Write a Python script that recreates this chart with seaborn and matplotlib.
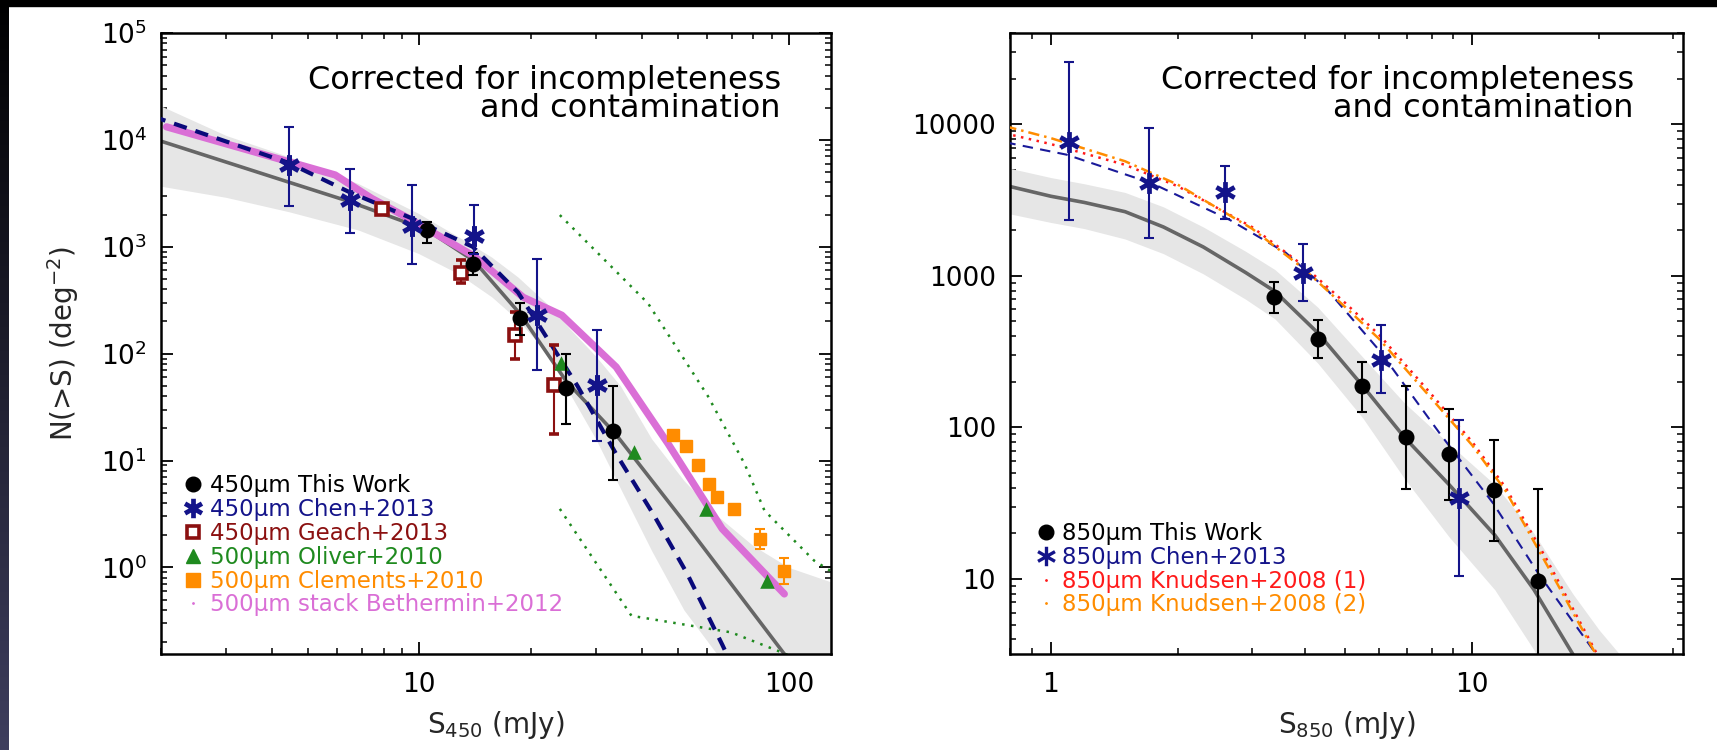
import numpy as np
import matplotlib
matplotlib.use("Agg")
import matplotlib.pyplot as plt
import seaborn as sns
from matplotlib.lines import Line2D
from matplotlib.path import Path
from matplotlib.patches import Rectangle
from matplotlib.ticker import LogLocator, NullFormatter, FuncFormatter, FixedLocator, LogFormatterMathtext

sns.set_theme(style="white")
plt.rcParams["font.family"] = ["DejaVu Sans"]
plt.rcParams["mathtext.fontset"] = "dejavusans"

# ---------------- 450 micron panel data ----------------
this450_x = [10.5, 13.95, 18.75, 25.0, 33.4]
this450_y = [1435, 693, 216, 48, 19]
this450_lo = [1080, 540, 149, 22.1, 6.6]
this450_hi = [1715, 880, 295, 98.6, 49.8]

chen450_x = [4.43, 6.5, 9.57, 14.08, 20.8, 30.3]
chen450_y = [5830, 2740, 1563, 1260, 229, 50.6]
chen450_lo = [2400, 1353, 689, 850, 69.9, 15.4]
chen450_hi = [13330, 5310, 3760, 2460, 762, 166]

geach_x = [7.94, 12.96, 18.2, 23.1]
geach_y = [2240, 570, 149, 50.6]
geach_lo = [2100, 454, 90, 17.8]
geach_hi = [2400, 750, 246, 120]

oliver_x = [24.1, 38.0, 59.8, 87.2]
oliver_y = [82, 12, 3.53, 0.75]

clements_x = [48.6, 52.7, 56.8, 60.8, 64.0, 71.0, 83.6, 97.2]
clements_y = [17.2, 13.8, 9.0, 6.05, 4.6, 3.55, 1.85, 0.93]
clements_lo = [17.2, 13.8, 9.0, 6.05, 4.6, 3.55, 1.5, 0.70]
clements_hi = [17.2, 13.8, 9.0, 6.05, 4.6, 3.55, 2.27, 1.23]

bethermin_x = [2.07, 5.92, 7.43, 9.53, 14.1, 19.1, 24.3, 34.1, 47.1, 66.0, 97.2]
bethermin_y = [13250, 4700, 2840, 1780, 813, 337, 229, 75, 14.4, 2.3, 0.565]

fit450_x = [1.9, 4.42, 6.43, 10.5, 14.05, 18.75, 25.0, 33.8, 51.1, 97.2, 110]
fit450_y = [10300, 4036, 2667, 1435, 740, 235, 55, 18.1, 2.9, 0.155, 0.09]

chenfit450_x = [1.9, 4.42, 6.43, 9.5, 13.95, 18.5, 22.6, 26.8, 34.0, 43.2, 53.0, 66.1, 72]
chenfit450_y = [16600, 6110, 3280, 1858, 1000, 374, 126, 49.8, 11.7, 3.05, 0.88, 0.188, 0.1]

band450_x = [1.9, 3.0, 4.43, 6.84, 9.94, 12.7, 15.7, 18.5, 22.0, 26.0, 30.0, 35.0, 42.5, 52.0, 64.3, 80.0, 100.0, 135.0]
band450_lo = [3800, 2900, 2130, 1435, 867, 564, 340, 206, 105, 38, 16, 5.5, 1.44, 0.4, 0.15, 0.05, 0.02, 0.008]
band450_hi = [22500, 11000, 6970, 3900, 2055, 1250, 800, 520, 300, 160, 95, 50, 16, 6.5, 3.0, 1.6, 1.0, 0.7]

dotup_x = [24.0, 41.6, 60.4, 75.9, 85.9, 117.0, 135.0]
dotup_y = [1980, 295, 40, 9.3, 3.4, 1.16, 0.85]
dotlo_x = [24.0, 37.5, 69.8, 93.3, 100.0]
dotlo_y = [3.53, 0.353, 0.247, 0.166, 0.15]

# ---------------- 850 micron panel data ----------------
this850_x = [3.38, 4.30, 5.47, 6.94, 8.82, 11.27, 14.3]
this850_y = [721, 382, 187, 86, 66.5, 38.5, 9.64]
this850_lo = [570, 286, 126, 39.4, 33, 17.7, 1.0]
this850_hi = [916, 512, 271, 187, 133, 82.8, 39.4]

chen850_x = [1.106, 1.71, 2.59, 3.96, 6.06, 9.3]
chen850_y = [7670, 4070, 3550, 1045, 280, 34]
chen850_lo = [2330, 1766, 2370, 684, 168, 10.4]
chen850_hi = [25800, 9440, 5300, 1620, 473, 112]

fit850_x = [0.78, 1.0, 1.2, 1.5, 1.85, 2.3, 2.9, 3.4, 4.3, 5.5, 6.9, 8.8, 11.3, 14.0, 17.3, 20.0]
fit850_y = [3950, 3350, 3050, 2650, 2100, 1550, 1050, 790, 420, 187, 86, 42, 19.5, 8.5, 3.2, 1.5]
band850_x = [0.78, 1.0, 1.2, 1.5, 1.85, 2.3, 2.9, 3.4, 4.3, 5.5, 6.9, 8.8, 11.3, 14.0, 17.3, 20.0, 23.0, 26.0]
band850_hi = [5200, 4450, 4050, 3550, 2850, 2100, 1450, 1100, 620, 290, 145, 78, 42, 20, 8, 4.6, 2.9, 2.0]
band850_lo = [2600, 2250, 2050, 1750, 1400, 1030, 700, 520, 265, 115, 46, 19, 8.5, 3.4, 1.0, 0.5, 0.3, 0.2]

chenfit850_x = [0.78, 1.09, 1.74, 2.65, 3.61, 4.51, 6.02, 8.4, 11.2, 14.3, 19.5, 21.0]
chenfit850_y = [7600, 6300, 4070, 2350, 1420, 818, 321, 90, 31.6, 11, 3.3, 2.5]

knud1_x = [0.78, 1.0, 1.5, 2.0, 3.0, 4.0, 5.0, 6.0, 8.0, 10.0, 12.0, 15.0, 20.0, 21.0]
knud1_y = [8700, 7400, 5400, 3900, 2100, 1150, 660, 410, 165, 80, 40, 13.5, 3.0, 2.4]
knud2_x = [0.78, 1.0, 1.5, 2.0, 3.0, 4.0, 5.0, 6.0, 8.0, 10.0, 12.0, 15.0, 20.0, 21.0]
knud2_y = [9700, 8100, 5700, 4000, 2050, 1100, 620, 385, 155, 76, 38, 12.5, 2.9, 2.3]

# ---------------- styling ----------------
C_NAVY = "#14148a"
C_DRED = "#8b1010"
C_GREEN = "#1f8a1f"
C_ORANGE = "#ff8c00"
C_ORCHID = "#da6fd6"
C_RED = "#ff1a1a"
C_GRAYL = "#666666"
C_BAND = "#e6e6e6"

ast_path = Path([(0, -1), (0, 1), (-0.87, -0.5), (0.87, 0.5), (-0.87, 0.5), (0.87, -0.5)],
                [Path.MOVETO, Path.LINETO, Path.MOVETO, Path.LINETO, Path.MOVETO, Path.LINETO])

fig = plt.figure(figsize=(17.17, 7.5), dpi=100)
fig.patch.set_facecolor("white")

# dark edges of the original screenshot
t = np.linspace(0, 1, 750)[:, None, None]
c_top = np.array([0.0, 0.0, 0.0])
c_bot = np.array([0x3e, 0x3e, 0x5e]) / 255.0
strip = c_top * (1 - t) + c_bot * t
strip = np.repeat(strip, 9, axis=1)
fig.figimage(strip, xo=0, yo=0, origin="upper", zorder=0)
fig.add_artist(Rectangle((0, 1 - 6 / 750), 1, 6 / 750, transform=fig.transFigure,
                         color="black", zorder=5))

ax1 = fig.add_axes([161 / 1717, 96 / 750, 670 / 1717, 621 / 750])
ax2 = fig.add_axes([1010 / 1717, 96 / 750, 673 / 1717, 621 / 750])

TICK_FS = 19
LAB_FS = 20
ANN_FS = 23
LEG_FS = 16.5


def style_axes(ax):
    ax.set_xscale("log")
    ax.set_yscale("log")
    ax.set_facecolor("white")
    for s in ax.spines.values():
        s.set_visible(True)
        s.set_color("black")
        s.set_linewidth(1.8)
    ax.tick_params(which="both", direction="in", top=True, right=True,
                   bottom=True, left=True, colors="black", labelsize=TICK_FS)
    ax.tick_params(which="major", length=8.6, width=1.3)
    ax.tick_params(which="minor", length=4.2, width=1.1)
    ax.tick_params(axis="x", which="major", pad=13)
    ax.tick_params(axis="y", which="major", pad=10)
    ax.xaxis.set_minor_locator(LogLocator(base=10, subs=np.arange(2, 10), numticks=50))
    ax.yaxis.set_minor_locator(LogLocator(base=10, subs=np.arange(2, 10), numticks=50))
    ax.xaxis.set_minor_formatter(NullFormatter())
    ax.yaxis.set_minor_formatter(NullFormatter())
    ax.grid(False)


def err(y, lo, hi):
    y = np.asarray(y, float)
    return np.vstack([y - np.asarray(lo, float), np.asarray(hi, float) - y])


# ================= Left panel =================
ax = ax1
style_axes(ax)
ax.fill_between(band450_x, band450_lo, band450_hi, color=C_BAND, lw=0, zorder=1)
sns.lineplot(x=fit450_x, y=fit450_y, ax=ax, color=C_GRAYL, lw=2.6, estimator=None, sort=False, zorder=2)
sns.lineplot(x=dotup_x, y=dotup_y, ax=ax, color=C_GREEN, lw=1.8, estimator=None, sort=False,
             zorder=2).lines[-1].set_dashes((1, 2.6))
sns.lineplot(x=dotlo_x, y=dotlo_y, ax=ax, color=C_GREEN, lw=1.8, estimator=None, sort=False,
             zorder=2).lines[-1].set_dashes((1, 2.6))
sns.lineplot(x=bethermin_x, y=bethermin_y, ax=ax, color=C_ORCHID, lw=5.2, estimator=None,
             sort=False, zorder=3)
sns.lineplot(x=chenfit450_x, y=chenfit450_y, ax=ax, color="#0a0a7a", lw=3.0, estimator=None,
             sort=False, zorder=4).lines[-1].set_dashes((3.2, 2.2))

ax.errorbar(geach_x, geach_y, yerr=err(geach_y, geach_lo, geach_hi), fmt="s", ms=8.5,
            mfc="white", mec=C_DRED, mew=2.6, ecolor=C_DRED, elinewidth=1.5, capsize=3.5,
            capthick=1.5, zorder=5)
ax.errorbar(clements_x, clements_y, yerr=err(clements_y, clements_lo, clements_hi), fmt="s",
            ms=9, mfc=C_ORANGE, mec=C_ORANGE, ecolor=C_ORANGE, elinewidth=1.5, capsize=3.5,
            capthick=1.5, zorder=5)
sns.scatterplot(x=oliver_x, y=oliver_y, ax=ax, marker="^", s=110, color=C_GREEN,
                edgecolor=C_GREEN, linewidth=0, zorder=5)
ax.errorbar(this450_x, this450_y, yerr=err(this450_y, this450_lo, this450_hi), fmt="o", ms=10.5,
            mfc="black", mec="black", ecolor="black", elinewidth=1.5, capsize=3.5,
            capthick=1.5, zorder=6)
ax.errorbar(chen450_x, chen450_y, yerr=err(chen450_y, chen450_lo, chen450_hi), fmt="none",
            ecolor=C_NAVY, elinewidth=1.5, capsize=3.5, capthick=1.5, zorder=6)
ax.plot(chen450_x, chen450_y, linestyle="none", marker=ast_path, ms=15, mew=3.6, mec=C_NAVY,
        mfc="none", zorder=7)

ax.set_xlim(2, 130)
ax.set_ylim(0.155, 1e5)
ax.xaxis.set_major_locator(FixedLocator([10, 100]))
ax.xaxis.set_major_formatter(FuncFormatter(lambda v, p: f"{v:g}"))
ax.yaxis.set_major_locator(LogLocator(base=10, numticks=20))
ax.yaxis.set_major_formatter(LogFormatterMathtext())
ax.set_xlabel("S$_{450}$ (mJy)", fontsize=LAB_FS, labelpad=8)
ax.set_ylabel("N(>S) (deg$^{-2}$)", fontsize=LAB_FS, labelpad=14)
ax.text(0.925, 0.948, "Corrected for incompleteness\nand contamination", transform=ax.transAxes,
        ha="right", va="top", fontsize=ANN_FS, linespacing=0.88, color="black")

h1 = [
    Line2D([], [], ls="none", marker="o", ms=10.5, mfc="black", mec="black"),
    Line2D([], [], ls="none", marker=ast_path, ms=14, mew=3.4, mec=C_NAVY, mfc="none"),
    Line2D([], [], ls="none", marker="s", ms=8.5, mfc="white", mec=C_DRED, mew=2.6),
    Line2D([], [], ls="none", marker="^", ms=9.5, mfc=C_GREEN, mec=C_GREEN),
    Line2D([], [], ls="none", marker="s", ms=9.5, mfc=C_ORANGE, mec=C_ORANGE),
    Line2D([], [], ls="none", marker=".", ms=2, mfc=C_ORCHID, mec=C_ORCHID),
]
l1 = ["450μm This Work", "450μm Chen+2013", "450μm Geach+2013", "500μm Oliver+2010",
      "500μm Clements+2010", "500μm stack Bethermin+2012"]
c1 = ["black", C_NAVY, C_DRED, C_GREEN, C_ORANGE, C_ORCHID]
leg = ax.legend(h1, l1, loc="upper left", bbox_to_anchor=(0.032, 0.29), frameon=False,
                fontsize=LEG_FS, handlelength=0.95, handletextpad=0.25, labelspacing=0.04,
                borderpad=0, borderaxespad=0)
for txt, c in zip(leg.get_texts(), c1):
    txt.set_color(c)

# ================= Right panel =================
ax = ax2
style_axes(ax)
ax.fill_between(band850_x, band850_lo, band850_hi, color=C_BAND, lw=0, zorder=1)
sns.lineplot(x=fit850_x, y=fit850_y, ax=ax, color=C_GRAYL, lw=2.6, estimator=None, sort=False, zorder=2)
sns.lineplot(x=chenfit850_x, y=chenfit850_y, ax=ax, color="#1a1a9a", lw=1.5, estimator=None,
             sort=False, zorder=3).lines[-1].set_dashes((5, 3.5))
sns.lineplot(x=knud1_x, y=knud1_y, ax=ax, color=C_RED, lw=1.8, estimator=None, sort=False,
             zorder=3).lines[-1].set_dashes((1, 2.2))
sns.lineplot(x=knud2_x, y=knud2_y, ax=ax, color=C_ORANGE, lw=1.8, estimator=None, sort=False,
             zorder=3).lines[-1].set_dashes((4.5, 2.0, 1, 2.0))

ax.errorbar(this850_x, this850_y, yerr=err(this850_y, this850_lo, this850_hi), fmt="o", ms=10.5,
            mfc="black", mec="black", ecolor="black", elinewidth=1.5, capsize=3.5,
            capthick=1.5, zorder=6)
ax.errorbar(chen850_x, chen850_y, yerr=err(chen850_y, chen850_lo, chen850_hi), fmt="none",
            ecolor=C_NAVY, elinewidth=1.5, capsize=3.5, capthick=1.5, zorder=6)
ax.plot(chen850_x, chen850_y, linestyle="none", marker=ast_path, ms=15, mew=3.4, mec=C_NAVY,
        mfc="none", zorder=7)

ax.set_xlim(0.8, 31.6)
ax.set_ylim(3.2, 4e4)
ax.xaxis.set_major_locator(FixedLocator([1, 10]))
ax.xaxis.set_major_formatter(FuncFormatter(lambda v, p: f"{v:g}"))
ax.yaxis.set_major_locator(FixedLocator([10, 100, 1000, 10000]))
ax.yaxis.set_major_formatter(FuncFormatter(lambda v, p: f"{int(round(v))}"))
ax.set_xlabel("S$_{850}$ (mJy)", fontsize=LAB_FS, labelpad=8)
ax.text(0.927, 0.948, "Corrected for incompleteness\nand contamination", transform=ax.transAxes,
        ha="right", va="top", fontsize=ANN_FS, linespacing=0.88, color="black")

h2 = [
    Line2D([], [], ls="none", marker="o", ms=10.5, mfc="black", mec="black"),
    Line2D([], [], ls="none", marker=ast_path, ms=14, mew=2.4, mec=C_NAVY, mfc="none"),
    Line2D([], [], ls="none", marker=".", ms=2, mfc=C_RED, mec=C_RED),
    Line2D([], [], ls="none", marker=".", ms=2, mfc=C_ORANGE, mec=C_ORANGE),
]
l2 = ["850μm This Work", "850μm Chen+2013", "850μm Knudsen+2008 (1)", "850μm Knudsen+2008 (2)"]
c2 = ["black", C_NAVY, C_RED, C_ORANGE]
leg2 = ax.legend(h2, l2, loc="upper left", bbox_to_anchor=(0.037, 0.213), frameon=False,
                 fontsize=LEG_FS, handlelength=0.95, handletextpad=0.25, labelspacing=0.04,
                 borderpad=0, borderaxespad=0)
for txt, c in zip(leg2.get_texts(), c2):
    txt.set_color(c)

fig.savefig("out.png", dpi=100, facecolor="white")
